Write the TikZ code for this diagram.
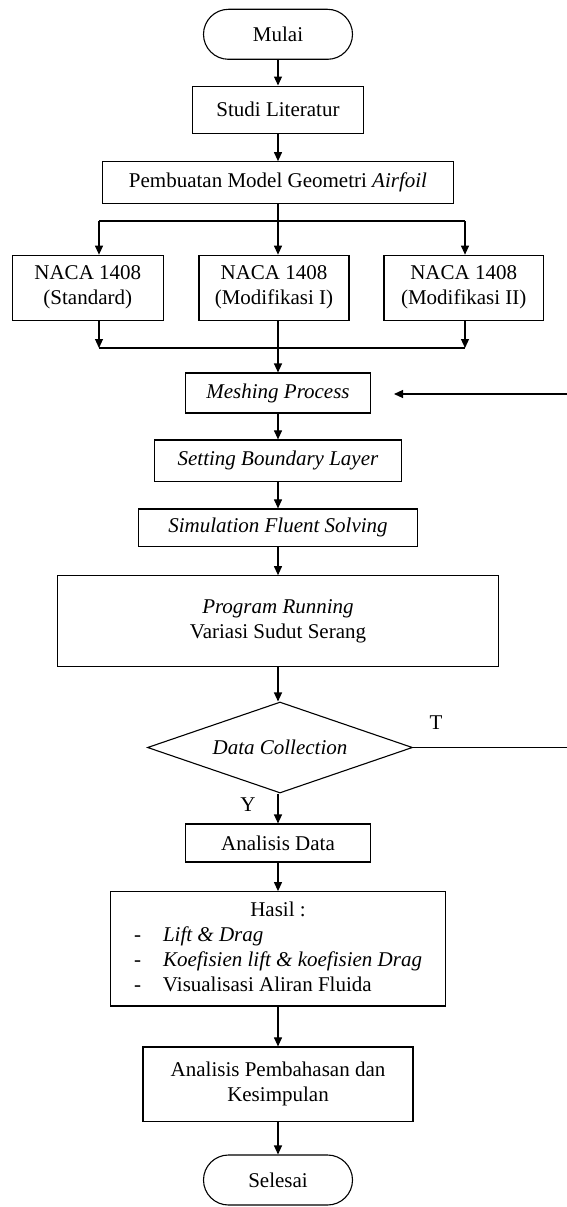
\documentclass[tikz,border=0pt]{standalone}
\usepackage{fontspec}
\setmainfont{Liberation Serif}
\usetikzlibrary{shapes.geometric,arrows.meta,positioning}

\begin{document}
\begin{tikzpicture}[x=1pt, y=-1pt, node distance=75pt,
  font=\fontsize{21}{25}\selectfont,
  main node/.style={draw, line width=1.1pt, inner sep=2pt, align=center},
  term node/.style={main node, rounded corners=25pt, minimum width=149pt, minimum height=50pt},
  test node/.style={main node, diamond, aspect=2.9, minimum width=265pt, minimum height=91pt, inner sep=0pt},
  line/.style={line width=1.1pt},
  arrow/.style={line, -{Triangle[length=9pt,width=8pt]}}]
\useasboundingbox (0,0) rectangle (566,1207);

\node[term node]                                         (mulai)      at (278,34.3) {Mulai};
\node[main node, below of=mulai, node distance=75.4pt,
      minimum width=170.6pt, minimum height=47.3pt]      (studi)      {Studi Literatur};
\node[main node, below of=studi, node distance=72.8pt,
      minimum width=351pt, minimum height=41.6pt]        (pembuatan)  {Pembuatan Model Geometri \textit{Airfoil}};

\node[main node, minimum width=151pt, minimum height=65pt]   (naca1) at (87.8,287.7)  {NACA 1408\\(Standard)};
\node[main node, minimum width=150pt, minimum height=65pt]   (naca2) at (274,287.7)   {NACA 1408\\(Modifikasi I)};
\node[main node, minimum width=159.5pt, minimum height=65pt] (naca3) at (463.7,287.7) {NACA 1408\\(Modifikasi II)};

\node[main node, below of=pembuatan, node distance=210.5pt,
      minimum width=185.7pt, minimum height=40pt]        (meshing)    {\textit{Meshing Process}};
\node[main node, below of=meshing, node distance=67.8pt,
      minimum width=247.7pt, minimum height=41.7pt]      (setting)    {\textit{Setting Boundary Layer}};
\node[main node, below of=setting, node distance=67pt,
      minimum width=279pt, minimum height=37.7pt]        (simulasi)   {\textit{Simulation Fluent Solving}};
\node[main node, below of=simulasi, node distance=93.4pt,
      minimum width=441pt, minimum height=91pt]          (program)    {\textit{Program Running}\\Variasi Sudut Serang};
\node[test node, below of=program, node distance=126.3pt, xshift=2pt] (collection) {\textit{Data Collection}};
\node[main node, below of=collection, node distance=95.5pt, xshift=-2pt,
      minimum width=185.7pt, minimum height=38pt]        (analisis)   {Analisis Data};
\node[main node, below of=analisis, node distance=105.8pt,
      minimum width=335.7pt, minimum height=114.3pt]     (hasil)
  {\begin{tabular}{@{}p{29pt}@{}l@{}}
   \multicolumn{2}{c}{Hasil :}\\
   - & \textit{Lift \& Drag}\\
   - & \textit{Koefisien lift \& koefisien Drag}\\
   - & Visualisasi Aliran Fluida
   \end{tabular}};
\node[main node, below of=hasil, node distance=135.5pt,
      minimum width=270pt, minimum height=74.7pt]        (pembahasan) {Analisis Pembahasan dan\\Kesimpulan};
\node[term node, below of=pembahasan, node distance=95.7pt] (selesai) {Selesai};

\node (labT) at (436,723) {T};
\node (labY) at (248,805) {Y};

% percabangan ke tiga airfoil
\coordinate (splitL) at (99,221);
\coordinate (splitR) at (465,221);
\coordinate (joinL)  at (99,348);
\coordinate (joinR)  at (465,348);
\coordinate (back)   at (568,394);
\coordinate (backend) at (394,394);

\draw[arrow] (mulai) -- (studi);
\draw[arrow] (studi) -- (pembuatan);
\draw[line]  (splitL) -- (splitR);
\draw[arrow] (splitL) -- (splitL |- naca1.north);
\draw[arrow] (pembuatan.south) -- (pembuatan.south |- naca2.north);
\draw[arrow] (splitR) -- (splitR |- naca3.north);

\draw[arrow] (joinL |- naca1.south) -- (joinL);
\draw[arrow] (joinR |- naca3.south) -- (joinR);
\draw[line]  (joinL) -- (joinR);
\draw[arrow] (meshing |- naca2.south) -- (meshing.north);

\draw[arrow] (meshing) -- (setting);
\draw[arrow] (setting) -- (simulasi);
\draw[arrow] (simulasi) -- (program);
\draw[arrow] (program.south -| meshing) -- (collection.north -| meshing);
\draw[arrow] (collection.south -| meshing) -- (analisis);
\draw[arrow] (analisis) -- (hasil);
\draw[arrow] (hasil) -- (pembahasan);
\draw[arrow] (pembahasan) -- (selesai);

% kembali ke meshing
\draw[arrow] (collection.east) -| (back) -- (backend);
\end{tikzpicture}
\end{document}
